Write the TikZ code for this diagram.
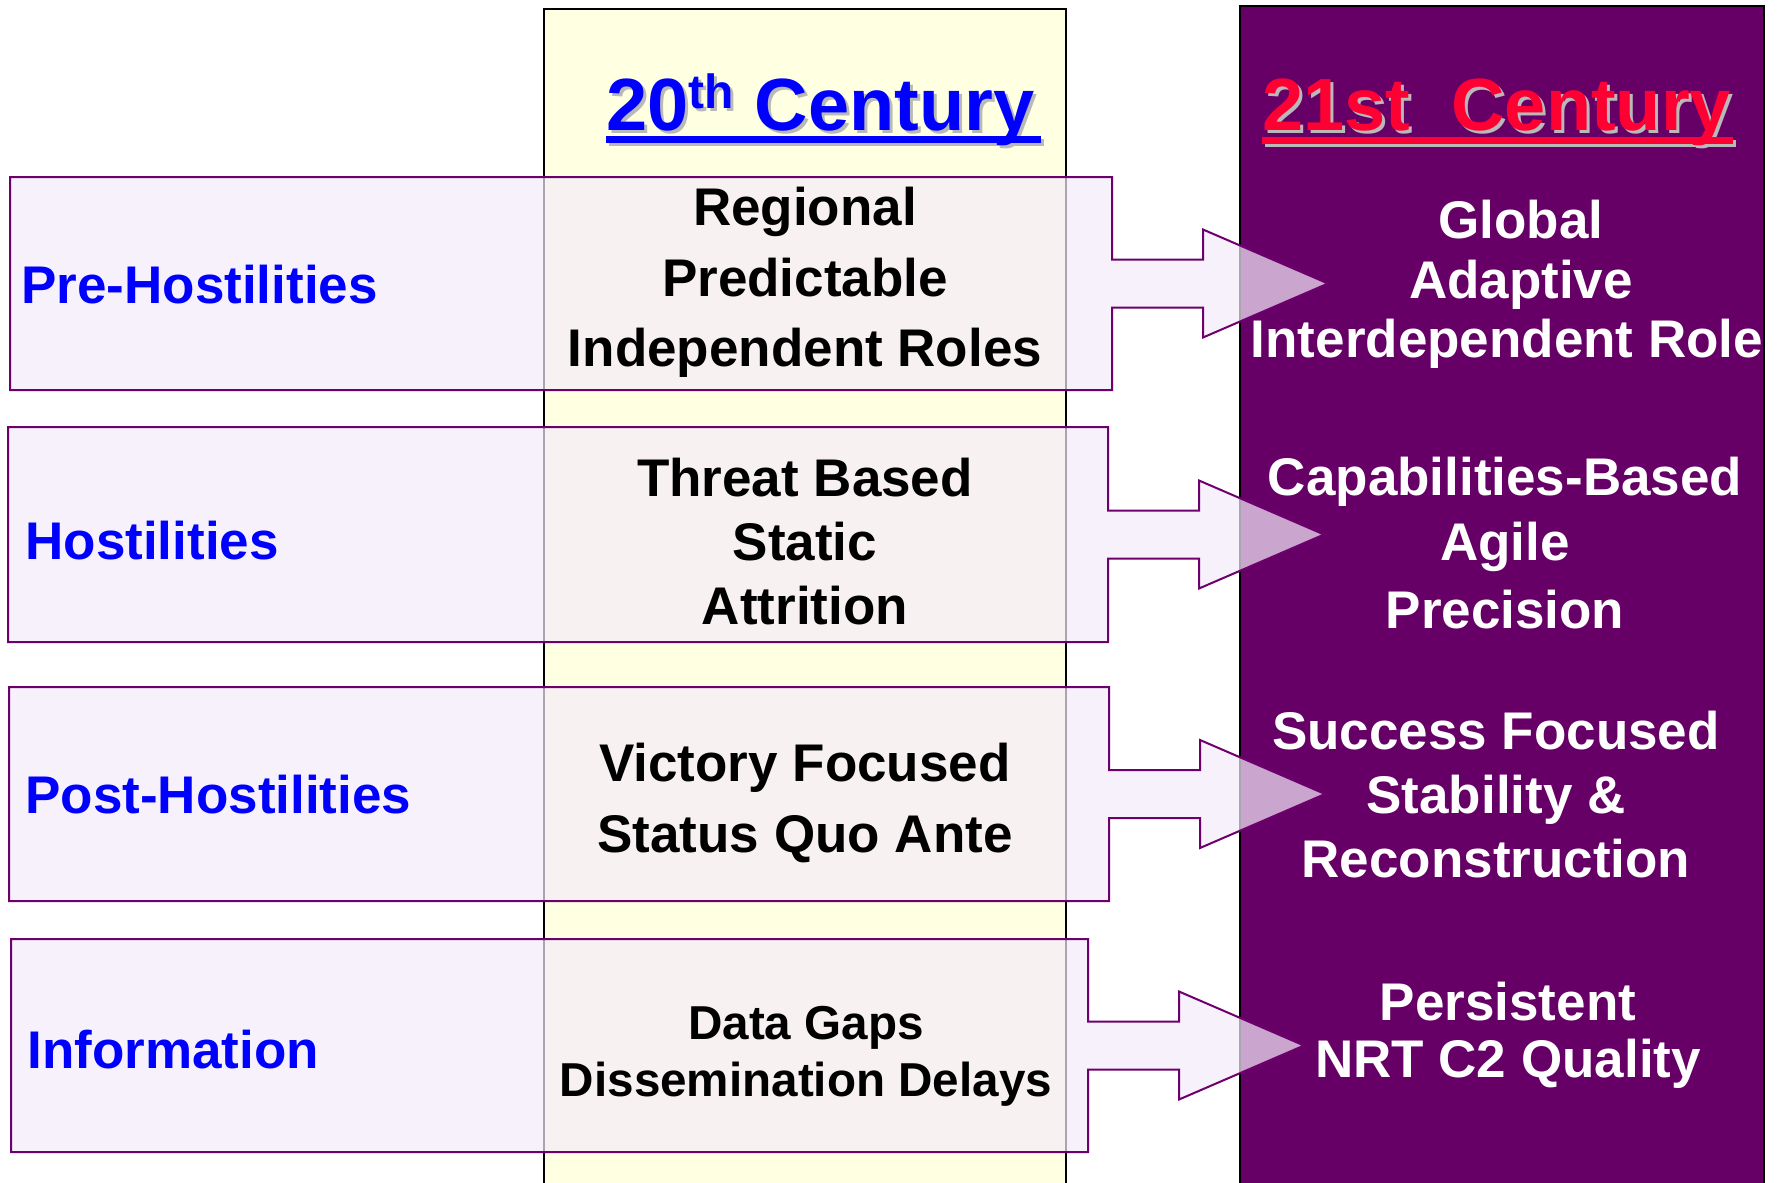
\documentclass[tikz,border=0pt]{standalone}
\usepackage{fontspec}
\setmainfont{Liberation Sans}
\definecolor{colyellow}{RGB}{255,255,226}
\definecolor{colpurple}{RGB}{102,0,102}
\definecolor{boxfill}{RGB}{245,236,250}
\definecolor{boxline}{RGB}{110,0,110}
\definecolor{hblue}{RGB}{0,0,255}
\definecolor{hred}{RGB}{255,0,51}
\definecolor{shadowgray}{RGB}{185,185,185}
\tikzset{
  colbox/.style={draw=black, line width=1pt},
  callout/.style={draw=boxline, line width=1pt, fill=boxfill, fill opacity=0.7, line join=miter},
  lbl/.style={anchor=base west, inner sep=0pt, text=hblue, font=\fontsize{26.5}{30}\selectfont\bfseries},
  midtxt/.style={anchor=base, inner sep=0pt, text=black, font=\fontsize{26.5}{30}\selectfont\bfseries},
  smalltxt/.style={anchor=base, inner sep=0pt, text=black, font=\fontsize{23.8}{27}\selectfont\bfseries},
  righttxt/.style={anchor=base, inner sep=0pt, text=white, font=\fontsize{26.5}{30}\selectfont\bfseries},
  hdr/.style={anchor=base west, inner sep=0pt, font=\fontsize{37}{40}\selectfont\bfseries}
}
% L T R B C
\newcommand\rowshape[5]{%
  \draw[callout] (#1,#2) -- (#3,#2) -- (#3,#5-24) -- (#3+91,#5-24) -- (#3+91,#5-54)
    -- (#3+216,#5) -- (#3+91,#5+54) -- (#3+91,#5+24) -- (#3,#5+24) -- (#3,#4) -- (#1,#4) -- cycle;}
\begin{document}
\begin{tikzpicture}[x=0.5pt,y=-0.5pt]
\useasboundingbox (0,0) rectangle (1778,1183);
\fill[white] (0,0) rectangle (1778,1183);
% columns
\draw[colbox, fill=colyellow] (544,9) rectangle (1066,1195);
\draw[colbox, fill=colpurple] (1240,6) rectangle (1764,1195);
% headers
\node[hdr, text=shadowgray] (c20s) at (609,133) {20\raisebox{11pt}{\fontsize{24}{26}\selectfont th} Century};
\fill[shadowgray] (609,139) rectangle (1044,146);
\fill[hblue] (606,136) rectangle (1041,143);
\node[hdr, text=hblue] (c20) at (606,130) {20\raisebox{11pt}{\fontsize{24}{26}\selectfont th} Century};
\node[hdr, text=shadowgray] (c21s) at (1265,133) {21st\ \ Century};
\fill[shadowgray] (1265,140) rectangle (1736,147);
\fill[hred] (1262,137) rectangle (1733,144);
\node[hdr, text=hred] (c21) at (1262,130) {21st\ \ Century};
% row shapes
\rowshape{10}{177}{1112}{390}{283.5}
\rowshape{8}{427}{1108}{642}{534.5}
\rowshape{9}{687}{1109}{901}{794}
\rowshape{11}{939}{1088}{1152}{1045.5}
% left labels
\node[lbl] (pre) at (21,303) {Pre-Hostilities};
\node[lbl] (hos) at (25,559) {Hostilities};
\node[lbl] (post) at (25,813) {Post-Hostilities};
\node[lbl] (info) at (27,1068) {Information};
% 20th century texts
\node[midtxt] (m1a) at (805,225) {Regional};
\node[midtxt] (m1b) at (805,296) {Predictable};
\node[midtxt] (m1c) at (805,366) {Independent Roles};
\node[midtxt] (m2a) at (805,496) {Threat Based};
\node[midtxt] (m2b) at (805,560) {Static};
\node[midtxt] (m2c) at (805,624) {Attrition};
\node[midtxt] (m3a) at (805,781) {Victory Focused};
\node[midtxt] (m3b) at (805,852) {Status Quo Ante};
\node[smalltxt] (m4a) at (806,1039) {Data Gaps};
\node[smalltxt] (m4b) at (806,1096) {Dissemination Delays};
% 21st century texts
\node[righttxt] (r1a) at (1521,238) {Global};
\node[righttxt] (r1b) at (1521,298) {Adaptive};
\node[righttxt] (r1c) at (1507,357) {Interdependent Role};
\node[righttxt] (r2a) at (1505,495) {Capabilities-Based};
\node[righttxt] (r2b) at (1505,560) {Agile};
\node[righttxt] (r2c) at (1505,628) {Precision};
\node[righttxt] (r3a) at (1496,749) {Success Focused};
\node[righttxt] (r3b) at (1496,813) {Stability \&};
\node[righttxt] (r3c) at (1496,877) {Reconstruction};
\node[righttxt] (r4a) at (1508,1020) {Persistent};
\node[righttxt] (r4b) at (1508,1077) {NRT C2 Quality};
\end{tikzpicture}
\end{document}
